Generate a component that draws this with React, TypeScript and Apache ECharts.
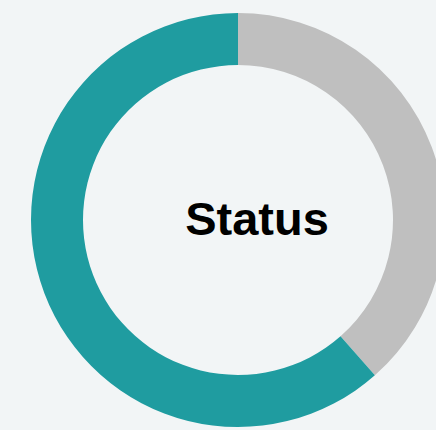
import React, { useEffect, useRef } from "react";
import * as echarts from "echarts";

const categories = ["Other", "Status"];
const values = [38.5, 61.5];
const colors = ["#bfbfbf", "#1f9ca0"];
const titleText = "Status";

export default function App() {
  const ref = useRef<HTMLDivElement>(null);
  useEffect(() => {
    document.body.style.margin = "0";
    const chart = echarts.init(ref.current!, null, { renderer: "svg" });
    chart.setOption({
      animation: false,
      backgroundColor: "#f2f5f6",
      graphic: [
        {
          type: "text",
          x: 257,
          y: 218,
          style: {
            text: titleText,
            fontFamily: "Liberation Sans, Arial, sans-serif",
            fontWeight: "bold",
            fontSize: 47,
            fill: "#000000",
            align: "center",
            verticalAlign: "middle",
          },
        },
      ],
      series: [
        {
          type: "pie",
          center: [238, 220],
          radius: [155, 207],
          startAngle: 90,
          clockwise: true,
          label: { show: false },
          labelLine: { show: false },
          silent: true,
          data: categories.map((c, i) => ({
            name: c,
            value: values[i],
            itemStyle: { color: colors[i] },
          })),
        },
      ],
    });
    return () => chart.dispose();
  }, []);
  return <div ref={ref} style={{ width: 436, height: 430 }} />;
}
